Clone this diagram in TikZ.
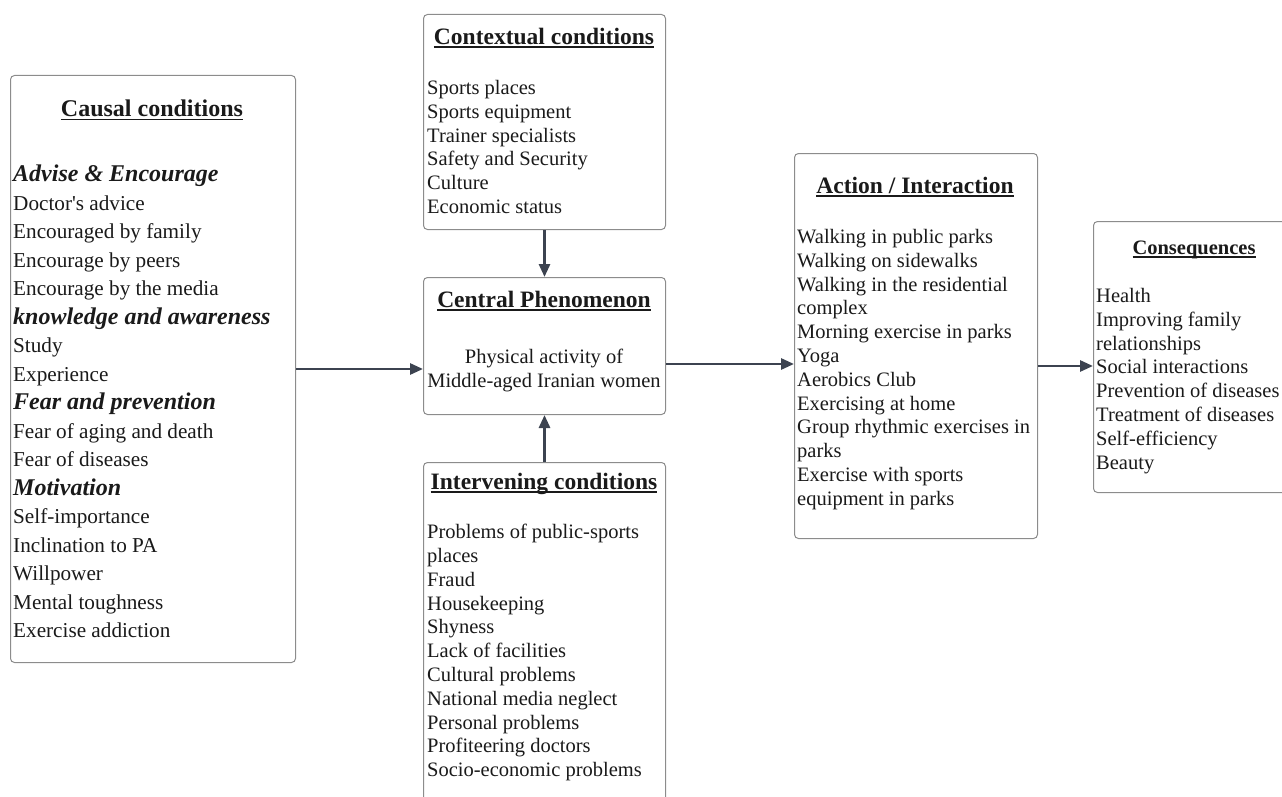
\documentclass[tikz,border=0pt]{standalone}
\usepackage{fontspec}
\setmainfont{Liberation Serif}
\usetikzlibrary{arrows.meta}
\definecolor{boxline}{HTML}{8C8C8C}
\definecolor{arrowcol}{HTML}{3C4350}
\definecolor{txt}{HTML}{1A1A1A}
\newsavebox{\hdrbox}
\newcommand{\hdr}[1]{\sbox{\hdrbox}{#1}\rlap{\rule[-3.2pt]{\wd\hdrbox}{1.4pt}}\usebox{\hdrbox}}
\tikzset{
  box/.style={draw=boxline, line width=1pt, rounded corners=4pt, fill=white, anchor=north west, inner sep=0pt},
  body/.style={anchor=north west, inner sep=0pt, align=left, text=txt, font=\fontsize{20.5}{23.8}\selectfont},
  cbody/.style={anchor=north, inner sep=0pt, align=center, text=txt, font=\fontsize{20.5}{24}\selectfont},
  head/.style={anchor=center, inner sep=0pt, text=txt, font=\fontsize{23.5}{26}\selectfont\bfseries},
  conn/.style={draw=arrowcol, line width=2.8pt, -{Triangle[length=13pt,width=11pt]}}
}
\begin{document}
\begin{tikzpicture}[x=1pt,y=-1pt]
\useasboundingbox (0,0) rectangle (1282,797);
% boxes
\node[box, minimum width=285pt, minimum height=587pt] (causal) at (10,75) {};
\node[box, minimum width=242pt, minimum height=215pt] (context) at (423,14) {};
\node[box, minimum width=242pt, minimum height=137pt] (central) at (423,277) {};
\node[box, minimum width=242pt, minimum height=360pt] (interv) at (423,462) {};
\node[box, minimum width=243pt, minimum height=385pt] (action) at (794,153) {};
\node[box, minimum width=210pt, minimum height=271pt] (conseq) at (1093,221) {};
% causal
\node[head, font=\fontsize{24}{27}\selectfont\bfseries] (causalh) at (152,110) {\hdr{Causal conditions}};
\node[body, font=\fontsize{21.2}{28.5}\selectfont] (causalt) at (13,165) {%
{\fontsize{24}{28.5}\selectfont\bfseries\itshape Advise \& Encourage}\\
Doctor\textquotesingle s advice\\
Encouraged by family\\
Encourage by peers\\
Encourage by the media\\
{\fontsize{24}{28.5}\selectfont\bfseries\itshape knowledge and awareness}\\
Study\\
Experience\\
{\fontsize{24}{28.5}\selectfont\bfseries\itshape Fear and prevention}\\
Fear of aging and death\\
Fear of diseases\\
{\fontsize{24}{28.5}\selectfont\bfseries\itshape Motivation}\\
Self-importance\\
Inclination to PA\\
Willpower\\
Mental toughness\\
Exercise addiction};
% contextual
\node[head] (contexth) at (544,38) {\hdr{Contextual conditions}};
\node[body] (contextt) at (427,80) {Sports places\\
Sports equipment\\
Trainer specialists\\
Safety and Security\\
Culture\\
Economic status};
% central
\node[head] (centralh) at (544,301) {\hdr{Central Phenomenon}};
\node[cbody] (centralt) at (544,349) {Physical activity of\\Middle-aged Iranian women};
% intervening
\node[head] (intervh) at (544,484) {\hdr{Intervening conditions}};
\node[body] (intervt) at (427,524) {Problems of public-sports\\
places\\
Fraud\\
Housekeeping\\
Shyness\\
Lack of facilities\\
Cultural problems\\
National media neglect\\
Personal problems\\
Profiteering doctors\\
Socio-economic problems};
% action
\node[head] (actionh) at (915,187) {\hdr{Action / Interaction}};
\node[body] (actiont) at (797,229) {Walking in public parks\\
Walking on sidewalks\\
Walking in the residential\\
complex\\
Morning exercise in parks\\
Yoga\\
Aerobics Club\\
Exercising at home\\
Group rhythmic exercises in\\
parks\\
Exercise with sports\\
equipment in parks};
% consequences
\node[head, font=\fontsize{20.5}{23}\selectfont\bfseries] (conseqh) at (1194,250) {\hdr{Consequences}};
\node[body] (conseqt) at (1096,288) {Health\\
Improving family\\
relationships\\
Social interactions\\
Prevention of diseases\\
Treatment of diseases\\
Self-efficiency\\
Beauty};
% connectors
\draw[conn] (causal.east |- 0,369) -- (central.west |- 0,369);
\draw[conn] (central.east |- 0,364) -- (action.west |- 0,364);
\draw[conn] (action.east |- 0,366) -- (conseq.west |- 0,366);
\draw[conn] (context.south) -- (central.north);
\draw[conn] (interv.north) -- (central.south);
\end{tikzpicture}
\end{document}
